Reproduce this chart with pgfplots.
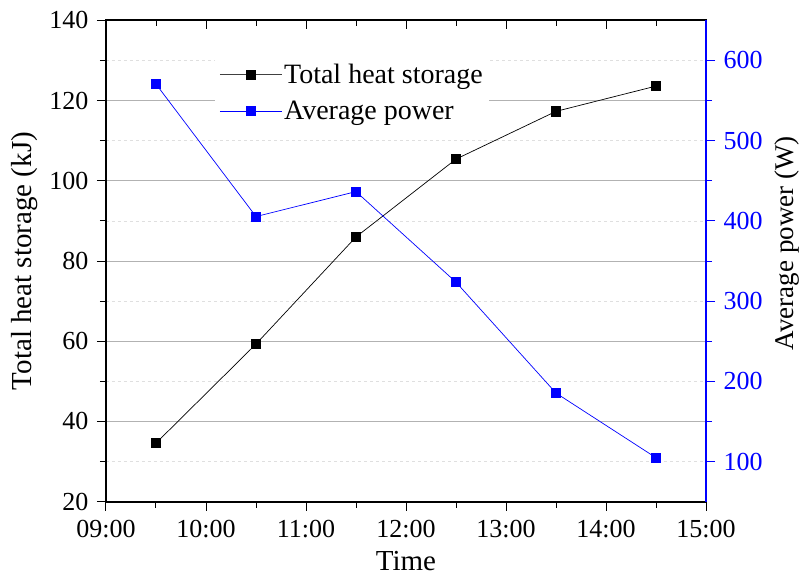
\documentclass[border=0pt]{standalone}
\usepackage{pgfplots}
\pgfplotsset{compat=1.18}
\usepackage{fontspec}
\setmainfont{Liberation Serif}
\definecolor{pblue}{RGB}{0,0,255}
\pgfplotsset{
  base/.style={
    scale only axis, width=600pt, height=481.4pt,
    at={(0pt,0pt)}, anchor=south west,
    xmin=9, xmax=15,
    /pgf/number format/assume math mode=true,
    tick label style={font=\fontsize{26}{30}\selectfont},
    label style={font=\fontsize{29}{32}\selectfont},
    major tick length=9pt, minor tick length=6pt,
    every tick/.style={line width=1pt},
    axis line style={line width=1.6pt},
  }
}
\begin{document}
\begin{tikzpicture}
% main axis: left y, bottom x, grids
\begin{axis}[base,
  ymin=20, ymax=140, ytick={20,40,...,140}, minor y tick num=1,
  xtick={9,10,...,15}, xticklabels={09:00,10:00,11:00,12:00,13:00,14:00,15:00},
  minor x tick num=1,
  xtick pos=bottom, ytick pos=left, tick align=outside,
  xticklabel style={yshift=-6pt},
  yticklabel style={xshift=-5pt},
  ymajorgrids, yminorgrids,
  major grid style={gray!60, line width=0.8pt},
  minor grid style={gray!25, dashed, line width=0.6pt},
  every tick/.style={black, line width=1pt},
  ylabel={Total heat storage (kJ)},
  ylabel style={at={(axis description cs:-0.135,0.5)}, anchor=center},
  xlabel={Time},
  xlabel style={at={(axis description cs:0.5,-0.142)}, anchor=base},
]
\addplot[black, line width=0.7pt, mark=square*, mark size=4.6pt] coordinates {
  (9.5,34.6) (10.5,59.3) (11.5,86.0) (12.5,105.4) (13.5,117.3) (14.5,123.6)
};
\end{axis}
% top ticks pointing inside
\begin{axis}[base,
  ymin=20, ymax=140,
  axis x line*=top, axis y line=none,
  xtick={9,10,...,15}, minor x tick num=1, xticklabels={},
  tick align=inside,
  every tick/.style={black, line width=1pt},
]
\end{axis}
% right axis
\begin{axis}[base,
  ymin=50, ymax=650, ytick={100,200,...,600}, minor y tick num=1,
  axis y line*=right, axis x line=none,
  tick align=outside,
  y axis line style={pblue, line width=1.6pt},
  every tick/.style={pblue, line width=1pt},
  yticklabel style={pblue, xshift=5pt},
  ylabel={Average power (W)},
  ylabel style={at={(axis description cs:1.135,0.537)}, anchor=center, font=\fontsize{27}{30}\selectfont},
  legend style={at={(0.182,0.922)}, anchor=north west, draw=none, fill=white,
    font=\fontsize{28}{30}\selectfont, inner sep=4pt, row sep=12pt},
  legend cell align=left,
  legend image code/.code={\draw[mark repeat=2,mark phase=2] plot coordinates {(0pt,0pt)(31pt,0pt)(62pt,0pt)};},
]
\addlegendimage{black!75, line width=0.7pt, mark=square*, mark size=4.6pt, mark options={black}}
\addlegendentry{Total heat storage}
\addplot[pblue, line width=0.7pt, mark=square*, mark size=4.6pt] coordinates {
  (9.5,570.5) (10.5,405.4) (11.5,436.5) (12.5,323.6) (13.5,185.4) (14.5,104.8)
};
\addlegendentry{Average power}
\end{axis}
\pgfresetboundingbox
\useasboundingbox (-106pt,-74.3pt) rectangle (696pt,501.7pt);
\end{tikzpicture}
\end{document}
